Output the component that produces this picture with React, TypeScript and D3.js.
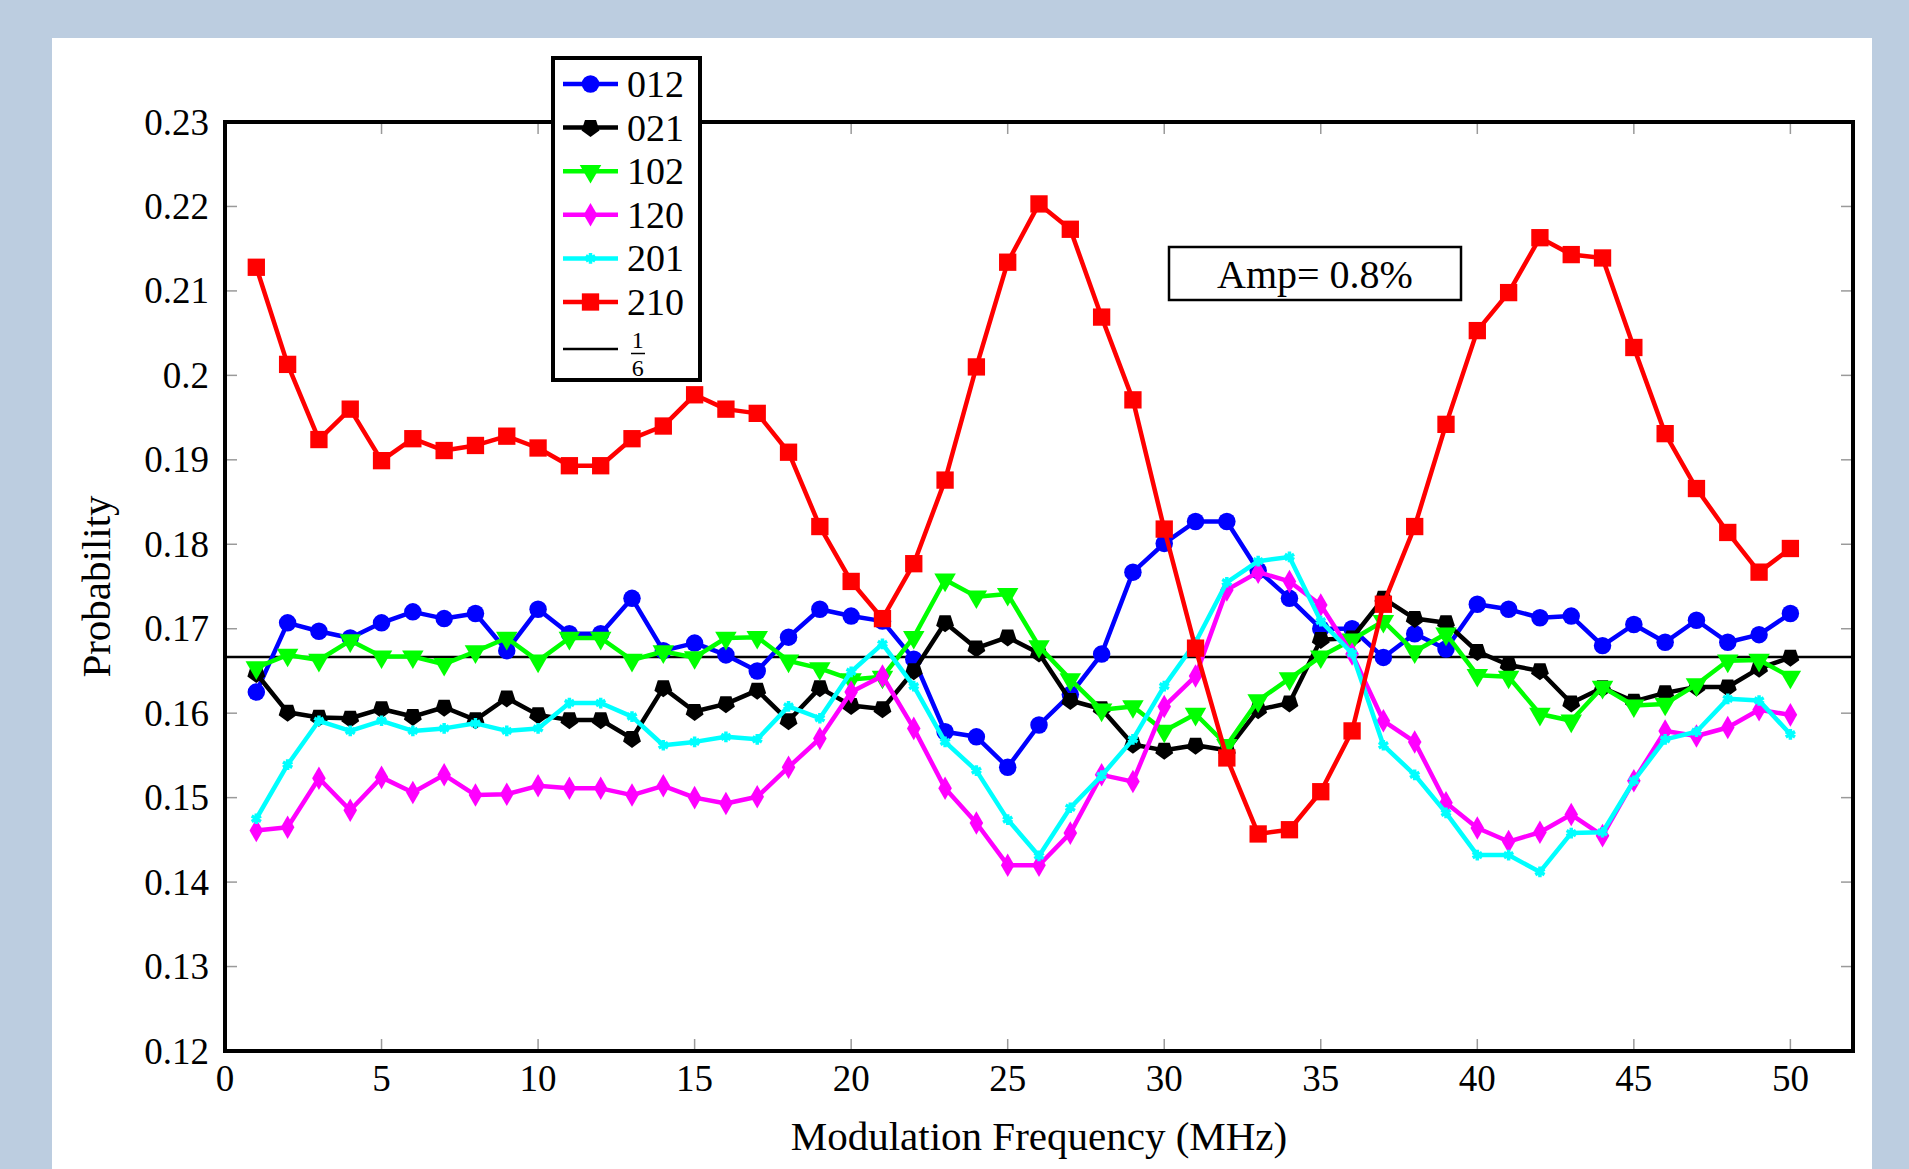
import { useMemo } from "react";
import * as d3 from "d3";

const WIDTH = 1909;
const HEIGHT = 1169;
const PLOT = { left: 225, right: 1853, top: 122, bottom: 1051 };
const FONT = "'Liberation Serif', 'DejaVu Serif', serif";

const freqs = d3.range(1, 51);

const s012 = [0.1625, 0.1707, 0.1697, 0.1689, 0.1707, 0.172, 0.1712, 0.1718, 0.1674, 0.1723,
  0.1694, 0.1694, 0.1736, 0.1674, 0.1683, 0.1669, 0.165, 0.169, 0.1723, 0.1715,
  0.1709, 0.1664, 0.1578, 0.1572, 0.1536, 0.1586, 0.1622, 0.167, 0.1767, 0.1801,
  0.1827, 0.1827, 0.1769, 0.1736, 0.17, 0.17, 0.1666, 0.1694, 0.1676, 0.1729,
  0.1723, 0.1713, 0.1715, 0.168, 0.1705, 0.1684, 0.171, 0.1684, 0.1693, 0.1718];

const s021 = [0.1647, 0.1601, 0.1595, 0.1594, 0.1605, 0.1596, 0.1607, 0.1592, 0.1618, 0.1598,
  0.1592, 0.1592, 0.157, 0.163, 0.1602, 0.1611, 0.1627, 0.1591, 0.163, 0.1609,
  0.1605, 0.165, 0.1707, 0.1677, 0.169, 0.1671, 0.1615, 0.1605, 0.1563, 0.1556,
  0.1562, 0.1556, 0.1604, 0.1612, 0.1687, 0.1689, 0.1736, 0.1712, 0.1707, 0.1673,
  0.1657, 0.165, 0.1612, 0.163, 0.1614, 0.1624, 0.1631, 0.1631, 0.1653, 0.1666];

const s102 = [0.1654, 0.1669, 0.1663, 0.1686, 0.1667, 0.1667, 0.1658, 0.1673, 0.1689, 0.1662,
  0.1689, 0.1689, 0.1663, 0.1673, 0.1666, 0.1689, 0.169, 0.1662, 0.1653, 0.164,
  0.1643, 0.169, 0.1758, 0.1738, 0.1741, 0.1679, 0.164, 0.1604, 0.1608, 0.1579,
  0.1599, 0.1562, 0.1615, 0.1641, 0.1667, 0.1687, 0.1709, 0.1673, 0.1694, 0.1645,
  0.1643, 0.1599, 0.1591, 0.1631, 0.1609, 0.1611, 0.1634, 0.1662, 0.1663, 0.1643];

const s120 = [0.1461, 0.1465, 0.1523, 0.1485, 0.1524, 0.1506, 0.1527, 0.1503, 0.1504, 0.1514,
  0.1511, 0.1511, 0.1503, 0.1514, 0.15, 0.1493, 0.1501, 0.1536, 0.157, 0.1625,
  0.1644, 0.1582, 0.1511, 0.147, 0.142, 0.142, 0.1458, 0.1527, 0.1519, 0.1608,
  0.1644, 0.1746, 0.1767, 0.1756, 0.1728, 0.167, 0.1591, 0.1566, 0.1494, 0.1464,
  0.1448, 0.1459, 0.148, 0.1455, 0.152, 0.1579, 0.1573, 0.1583, 0.1604, 0.1598];

const s201 = [0.1475, 0.1539, 0.1591, 0.1579, 0.1591, 0.1579, 0.1582, 0.1588, 0.1579, 0.1582,
  0.1612, 0.1612, 0.1596, 0.1562, 0.1566, 0.1572, 0.1569, 0.1608, 0.1594, 0.1649,
  0.1682, 0.1632, 0.1566, 0.1532, 0.1474, 0.1431, 0.1488, 0.1526, 0.1569, 0.1632,
  0.1684, 0.1755, 0.178, 0.1785, 0.1709, 0.1671, 0.1562, 0.1527, 0.1482, 0.1432,
  0.1432, 0.1412, 0.1458, 0.1459, 0.152, 0.1569, 0.1578, 0.1617, 0.1615, 0.1575];

const s210 = [0.2128, 0.2013, 0.1924, 0.196, 0.1899, 0.1925, 0.1911, 0.1917, 0.1928, 0.1914,
  0.1893, 0.1893, 0.1925, 0.194, 0.1977, 0.196, 0.1955, 0.1909, 0.1821, 0.1756,
  0.1712, 0.1777, 0.1876, 0.201, 0.2134, 0.2203, 0.2173, 0.2069, 0.1971, 0.1818,
  0.1677, 0.1547, 0.1457, 0.1462, 0.1507, 0.1579, 0.1729, 0.1821, 0.1942, 0.2053,
  0.2098, 0.2163, 0.2143, 0.2139, 0.2033, 0.1931, 0.1866, 0.1814, 0.1767, 0.1795];

const xTicks = [0, 5, 10, 15, 20, 25, 30, 35, 40, 45, 50];
const yTicks = [0.12, 0.13, 0.14, 0.15, 0.16, 0.17, 0.18, 0.19, 0.2, 0.21, 0.22, 0.23];

// pgfplots-like pentagon mark
const pentagon = {
  draw(ctx, size) {
    const r = Math.sqrt(size / 2.378);
    for (let i = 0; i < 5; i++) {
      const a = -Math.PI / 2 + (i * 2 * Math.PI) / 5;
      const px = r * Math.cos(a);
      const py = r * Math.sin(a);
      if (i === 0) ctx.moveTo(px, py);
      else ctx.lineTo(px, py);
    }
    ctx.closePath();
  },
};

const series = [
  { name: "012", values: s012, color: "#0000ff", symbol: d3.symbolCircle, size: 240, rotate: 0, stroke: false },
  { name: "021", values: s021, color: "#000000", symbol: pentagon, size: 210, rotate: 180, stroke: false },
  { name: "102", values: s102, color: "#00ff00", symbol: d3.symbolTriangle, size: 200, rotate: 180, stroke: false },
  { name: "120", values: s120, color: "#ff00ff", symbol: d3.symbolDiamond, size: 160, rotate: 0, stroke: false },
  { name: "201", values: s201, color: "#00ffff", symbol: d3.symbolAsterisk, size: 80, rotate: 0, stroke: true },
  { name: "210", values: s210, color: "#ff0000", symbol: d3.symbolSquare, size: 300, rotate: 0, stroke: false },
];

export default function App() {
  const x = useMemo(() => d3.scaleLinear().domain([0, 52]).range([PLOT.left, PLOT.right]), []);
  const y = useMemo(() => d3.scaleLinear().domain([0.12, 0.23]).range([PLOT.bottom, PLOT.top]), []);

  const line = d3
    .line<number>()
    .x((_, i) => x(freqs[i]))
    .y((d) => y(d));

  const legendRowY = (i: number) => 84 + i * 43.6;

  return (
    <div style={{ position: "absolute", left: 0, top: 0 }}>
      <svg width={WIDTH} height={HEIGHT} style={{ display: "block", fontFamily: FONT }}>
        <rect x={0} y={0} width={WIDTH} height={HEIGHT} fill="#bccde0" />
        <rect x={52} y={38} width={1820} height={HEIGHT - 38} fill="#ffffff" />

        {/* ticks, inside on all four sides */}
        {xTicks.map((t) => (
          <g key={"xt" + t} stroke="#9a9a9a" strokeWidth={1.5}>
            <line x1={x(t)} x2={x(t)} y1={PLOT.bottom} y2={PLOT.bottom - 12} />
            <line x1={x(t)} x2={x(t)} y1={PLOT.top} y2={PLOT.top + 12} />
          </g>
        ))}
        {yTicks.map((t) => (
          <g key={"yt" + t} stroke="#9a9a9a" strokeWidth={1.5}>
            <line x1={PLOT.left} x2={PLOT.left + 12} y1={y(t)} y2={y(t)} />
            <line x1={PLOT.right} x2={PLOT.right - 12} y1={y(t)} y2={y(t)} />
          </g>
        ))}

        {/* 1/6 reference */}
        <line x1={PLOT.left} x2={PLOT.right} y1={y(1 / 6)} y2={y(1 / 6)} stroke="#000" strokeWidth={2.5} />

        {series.map((s) => (
          <g key={s.name}>
            <path d={line(s.values) || ""} fill="none" stroke={s.color} strokeWidth={4.5} strokeLinejoin="round" />
            {s.values.map((v, i) => (
              <path
                key={i}
                transform={`translate(${x(freqs[i])},${y(v)}) rotate(${s.rotate})`}
                d={d3.symbol(s.symbol, s.size)() || ""}
                fill={s.stroke ? "none" : s.color}
                stroke={s.color}
                strokeWidth={s.stroke ? 3.5 : 0}
              />
            ))}
          </g>
        ))}

        {/* axis box */}
        <rect
          x={PLOT.left}
          y={PLOT.top}
          width={PLOT.right - PLOT.left}
          height={PLOT.bottom - PLOT.top}
          fill="none"
          stroke="#000"
          strokeWidth={4}
        />

        {xTicks.map((t) => (
          <text key={"xl" + t} x={x(t)} y={1091} textAnchor="middle" fontSize={37}>
            {t}
          </text>
        ))}
        {yTicks.map((t) => (
          <text key={"yl" + t} x={209} y={y(t)} dy="0.34em" textAnchor="end" fontSize={37}>
            {d3.format("~g")(t)}
          </text>
        ))}

        <text x={(PLOT.left + PLOT.right) / 2} y={1150} textAnchor="middle" fontSize={41}>
          Modulation Frequency (MHz)
        </text>
        <text
          transform={`translate(110,${(PLOT.top + PLOT.bottom) / 2}) rotate(-90)`}
          textAnchor="middle"
          fontSize={41}
        >
          Probability
        </text>

        {/* amplitude box */}
        <rect x={1169} y={247} width={292} height={53} fill="#fff" stroke="#000" strokeWidth={2.5} />
        <text x={1315} y={274} dy="0.34em" textAnchor="middle" fontSize={40}>
          Amp= 0.8%
        </text>

        {/* legend */}
        <rect x={553} y={58} width={147} height={322} fill="#fff" stroke="#000" strokeWidth={4} />
        {series.map((s, i) => (
          <g key={"lg" + s.name}>
            <line x1={563} x2={618} y1={legendRowY(i)} y2={legendRowY(i)} stroke={s.color} strokeWidth={4.5} />
            <path
              transform={`translate(590.5,${legendRowY(i)}) rotate(${s.rotate})`}
              d={d3.symbol(s.symbol, s.size)() || ""}
              fill={s.stroke ? "none" : s.color}
              stroke={s.color}
              strokeWidth={s.stroke ? 3.5 : 0}
            />
            <text x={627} y={legendRowY(i)} dy="0.34em" fontSize={38}>
              {s.name}
            </text>
          </g>
        ))}
        <line x1={563} x2={618} y1={349} y2={349} stroke="#000" strokeWidth={2.5} />
        <text x={637.7} y={348} textAnchor="middle" fontSize={24}>1</text>
        <line x1={631} x2={645} y1={353.5} y2={353.5} stroke="#000" strokeWidth={1.5} />
        <text x={637.7} y={376} textAnchor="middle" fontSize={24}>6</text>
      </svg>
    </div>
  );
}
